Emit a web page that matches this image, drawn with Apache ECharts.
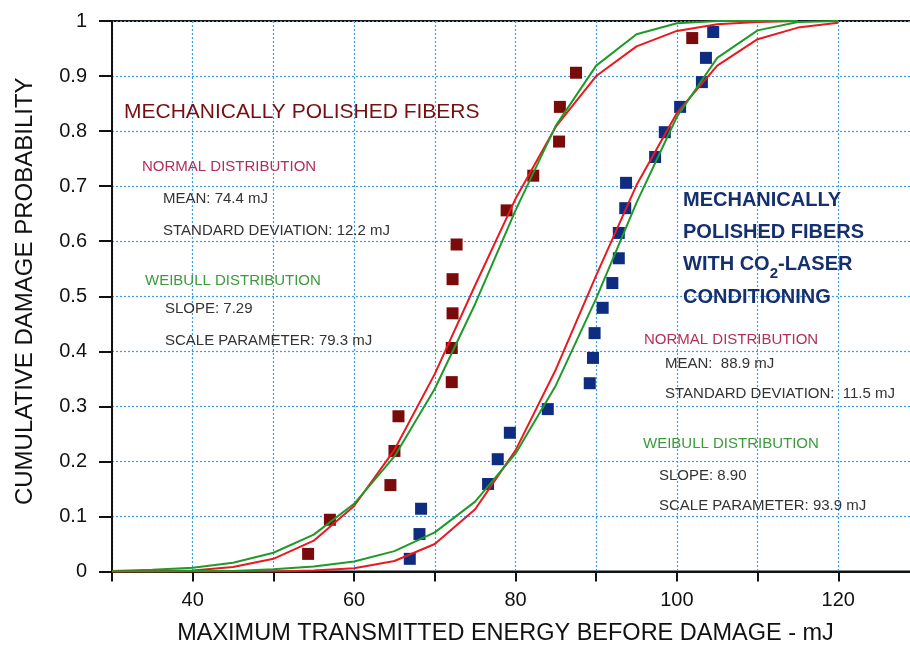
<!DOCTYPE html>
<html>
<head>
<meta charset="utf-8">
<title>Cumulative damage probability</title>
<script src="https://cdn.jsdelivr.net/npm/echarts@6/dist/echarts.min.js"></script>
<style>
  html, body { margin: 0; padding: 0; background: #fff; }
  #main { width: 910px; height: 653px; }
</style>
</head>
<body>
<div id="main"></div>
<script>
// measured damage energies (mJ) and their cumulative probabilities
var mechEnergy = [54.3, 57.0, 64.5, 65.0, 65.5, 72.1, 72.1, 72.2, 72.2, 72.7, 78.9, 82.2, 85.4, 85.5, 87.5, 101.9];
var mechProb = [0.032, 0.094, 0.157, 0.219, 0.282, 0.344, 0.406, 0.469, 0.531, 0.594, 0.656, 0.719, 0.781, 0.844, 0.906, 0.969];

var co2Energy = [66.9, 68.1, 68.3, 76.6, 77.8, 79.3, 84.0, 89.2, 89.6, 89.8, 90.8, 92.0, 92.8, 92.8, 93.6, 93.7, 97.3, 98.5, 100.4, 103.1, 103.6, 104.5];
var co2Prob = [0.023, 0.068, 0.114, 0.159, 0.204, 0.252, 0.295, 0.342, 0.388, 0.433, 0.479, 0.524, 0.569, 0.615, 0.660, 0.706, 0.753, 0.798, 0.844, 0.889, 0.933, 0.980];

// fitted curves, read every 5 mJ
var fitEnergy = [30, 35, 40, 45, 50, 55, 60, 65, 70, 75, 80, 85, 90, 95, 100, 105, 110, 115, 120];
var mechNormal = [0.000, 0.001, 0.002, 0.008, 0.023, 0.056, 0.119, 0.221, 0.359, 0.520, 0.677, 0.808, 0.900, 0.954, 0.982, 0.994, 0.998, 1.000];
var mechWeibull = [0.001, 0.003, 0.007, 0.016, 0.034, 0.067, 0.123, 0.209, 0.332, 0.486, 0.656, 0.810, 0.919, 0.976, 0.996, 1.000, 1.000, 1.000];
var co2Normal = [0.000, 0.000, 0.000, 0.000, 0.000, 0.002, 0.006, 0.019, 0.050, 0.113, 0.220, 0.367, 0.538, 0.702, 0.833, 0.919, 0.967, 0.988, 0.997];
var co2Weibull = [0.000, 0.000, 0.001, 0.001, 0.004, 0.009, 0.018, 0.037, 0.071, 0.127, 0.214, 0.338, 0.496, 0.670, 0.826, 0.933, 0.983, 0.998, 1.000];

var xTicks = [40, 60, 80, 100, 120];

function pairs(xs, ys) {
  var out = [];
  for (var i = 0; i < ys.length; i++) out.push([xs[i], ys[i]]);
  return out;
}

var FONT = '"Liberation Sans", Arial, sans-serif';
var gridLine = { color: '#3d9be9', width: 1.2, type: [2, 2] };

function note(x, y, text, color, size, weight) {
  return {
    type: 'text', x: x, y: y, silent: true, z: 50,
    style: {
      text: text, fill: color, font: (weight || 'normal') + ' ' + size + 'px ' + FONT,
      align: 'left', verticalAlign: 'middle'
    }
  };
}

var RED_T = '#761010', PINK_T = '#b0305a', GREEN_T = '#3c9a3c', GRAY_T = '#333333', BLUE_T = '#14306e';

var notes = [
  note(124, 112, 'MECHANICALLY POLISHED FIBERS', RED_T, 21),
  note(142, 167, 'NORMAL DISTRIBUTION', PINK_T, 15),
  note(163, 199, 'MEAN: 74.4 mJ', GRAY_T, 15),
  note(163, 231, 'STANDARD DEVIATION: 12.2 mJ', GRAY_T, 15),
  note(145, 281, 'WEIBULL DISTRIBUTION', GREEN_T, 15),
  note(165, 309, 'SLOPE: 7.29', GRAY_T, 15),
  note(165, 341, 'SCALE PARAMETER: 79.3 mJ', GRAY_T, 15),

  note(683, 200, 'MECHANICALLY', BLUE_T, 20, 'bold'),
  note(683, 232, 'POLISHED FIBERS', BLUE_T, 20, 'bold'),
  note(683, 297, 'CONDITIONING', BLUE_T, 20, 'bold'),
  note(644, 340, 'NORMAL DISTRIBUTION', PINK_T, 15),
  note(665, 364, 'MEAN:  88.9 mJ', GRAY_T, 15),
  note(665, 394, 'STANDARD DEVIATION:  11.5 mJ', GRAY_T, 15),
  note(643, 444, 'WEIBULL DISTRIBUTION', GREEN_T, 15),
  note(659, 476, 'SLOPE: 8.90', GRAY_T, 15),
  note(659, 506, 'SCALE PARAMETER: 93.9 mJ', GRAY_T, 15),
  {
    type: 'text', x: 683, y: 254, silent: true, z: 50,
    style: {
      text: '{a|WITH CO}{s|2}{a|-LASER}',
      align: 'left', verticalAlign: 'top',
      rich: {
        a: { fontFamily: FONT, fontSize: 20, fontWeight: 'bold', fill: BLUE_T, lineHeight: 22, verticalAlign: 'top' },
        s: { fontFamily: FONT, fontSize: 15, fontWeight: 'bold', fill: BLUE_T, lineHeight: 16, padding: [12, 0, 0, 0], verticalAlign: 'top' }
      }
    }
  }
];

var myChart = echarts.init(document.getElementById('main'));

var option = {
  animation: false,
  backgroundColor: '#fff',
  grid: {
    left: 112, right: -9, top: 21, bottom: 81.5,
    outerBoundsMode: 'none',
    show: true, borderColor: '#111', borderWidth: 2
  },
  xAxis: {
    type: 'value', min: 30, max: 130, interval: 10,
    name: 'MAXIMUM TRANSMITTED ENERGY BEFORE DAMAGE - mJ',
    nameLocation: 'middle', nameGap: 50,
    nameTextStyle: { fontFamily: FONT, fontSize: 23.5, color: '#111', padding: [0, 20, 0, 0] },
    axisLine: { lineStyle: { color: '#111', width: 2 } },
    axisTick: { length: 10, lineStyle: { color: '#111', width: 2 } },
    axisLabel: {
      margin: 19, fontFamily: FONT, fontSize: 20, color: '#111',
      formatter: function (v) { return xTicks.indexOf(v) >= 0 ? String(v) : ''; }
    },
    splitLine: { show: true, lineStyle: gridLine }
  },
  yAxis: {
    type: 'value', min: 0, max: 1, interval: 0.1,
    name: 'CUMULATIVE DAMAGE PROBABILITY',
    nameLocation: 'middle', nameGap: 75,
    nameTextStyle: { fontFamily: FONT, fontSize: 24, color: '#111', padding: [0, 0, 0, 10] },
    axisLine: { show: true, lineStyle: { color: '#111', width: 2 } },
    axisTick: { show: true, length: 13, lineStyle: { color: '#111', width: 2 } },
    axisLabel: { margin: 25, fontFamily: FONT, fontSize: 20, color: '#111' },
    splitLine: { show: true, lineStyle: gridLine }
  },
  series: [
    {
      name: 'mechanically polished', type: 'scatter', symbol: 'rect', symbolSize: 12,
      itemStyle: { color: '#7b0b0b', opacity: 1 }, data: pairs(mechEnergy, mechProb)
    },
    {
      name: 'CO2-laser conditioned', type: 'scatter', symbol: 'rect', symbolSize: 12,
      itemStyle: { color: '#0f2d80', opacity: 1 }, data: pairs(co2Energy, co2Prob)
    },
    {
      name: 'normal fit 1', type: 'line', showSymbol: false, z: 3,
      lineStyle: { color: '#e8191f', width: 2 }, data: pairs(fitEnergy, mechNormal)
    },
    {
      name: 'weibull fit 1', type: 'line', showSymbol: false, z: 3,
      lineStyle: { color: '#1f9a2a', width: 2 }, data: pairs(fitEnergy, mechWeibull)
    },
    {
      name: 'normal fit 2', type: 'line', showSymbol: false, z: 3,
      lineStyle: { color: '#e8191f', width: 2 }, data: pairs(fitEnergy, co2Normal)
    },
    {
      name: 'weibull fit 2', type: 'line', showSymbol: false, z: 3,
      lineStyle: { color: '#1f9a2a', width: 2 }, data: pairs(fitEnergy, co2Weibull)
    }
  ],
  graphic: notes
};

myChart.setOption(option);
</script>
</body>
</html>
